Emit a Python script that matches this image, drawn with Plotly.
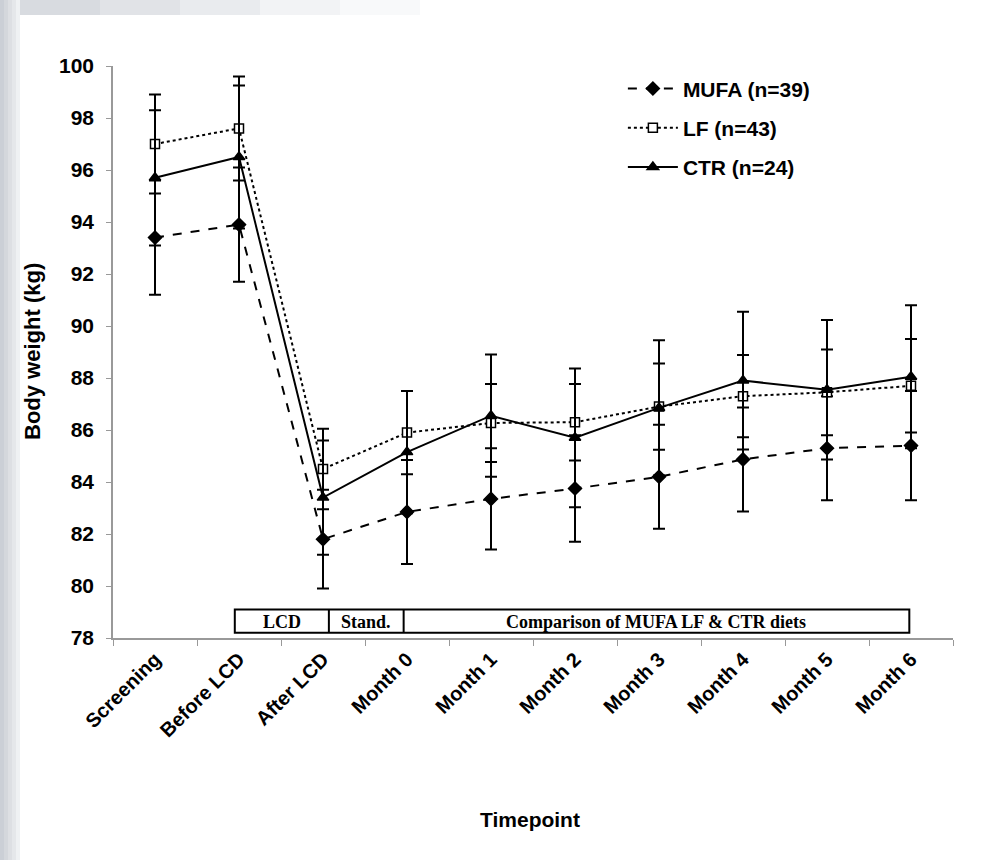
import plotly.graph_objects as go

timepoints = ["Screening", "Before LCD", "After LCD", "Month 0", "Month 1",
              "Month 2", "Month 3", "Month 4", "Month 5", "Month 6"]

mufa = [93.4, 93.9, 81.8, 82.85, 83.35, 83.75, 84.2, 84.87, 85.3, 85.4]
mufa_err = [2.2, 2.2, 1.9, 2.0, 1.95, 2.05, 2.0, 2.0, 2.0, 2.1]

lf = [97.0, 97.6, 84.5, 85.9, 86.27, 86.3, 86.9, 87.3, 87.45, 87.7]
lf_err = [1.9, 2.0, 1.55, 1.6, 1.5, 1.47, 1.66, 1.58, 1.65, 1.8]

ctr = [95.7, 96.5, 83.4, 85.15, 86.55, 85.7, 86.85, 87.9, 87.55, 88.05]
ctr_err = [2.6, 2.75, 2.2, 2.35, 2.35, 2.67, 2.6, 2.65, 2.68, 2.75]

phase_labels = ["LCD", "Stand.", "Comparison of MUFA LF & CTR diets"]
phase_bounds = [0.95, 2.07, 2.96, 8.98]

yticks = list(range(78, 101, 2))

fig = go.Figure()

def add_series(name, y, err, dash, symbol, mfill, msize, group):
    fig.add_trace(go.Scatter(
        x=timepoints, y=y, name=name, mode="lines+markers",
        legendgroup=group,
        line=dict(color="black", width=2, dash=dash),
        marker=dict(symbol=symbol, size=msize, color=mfill,
                    line=dict(color="black", width=1.5)),
        error_y=dict(type="data", array=err, visible=True,
                     color="black", thickness=2, width=6),
    ))

add_series("MUFA (n=39)", mufa, mufa_err, "dash", "diamond", "black", 10, "a")
add_series("LF (n=43)", lf, lf_err, "dot", "square", "white", 9, "b")
add_series("CTR (n=24)", ctr, ctr_err, "solid", "triangle-up", "black", 10, "c")

shapes = []
# slide-like gray border (left and top-left)
for i, op in enumerate([0.6, 0.5, 0.4, 0.3, 0.18]):
    x0 = -113/840 + i*4/840
    shapes.append(dict(type="rect", xref="paper", yref="paper",
                       x0=x0, x1=x0 + 4/840, y0=-222/572, y1=638/572,
                       fillcolor="#a9afba", opacity=op, line=dict(width=0),
                       layer="below"))
for i, op in enumerate([0.45, 0.35, 0.25, 0.15, 0.08]):
    x0 = -113/840 + 20/840 + i*80/840
    shapes.append(dict(type="rect", xref="paper", yref="paper",
                       x0=x0, x1=x0 + 80/840, y0=(638-15)/572, y1=638/572,
                       fillcolor="#a9afba", opacity=op, line=dict(width=0),
                       layer="below"))

# phase box
shapes.append(dict(type="rect", xref="x", yref="y",
                   x0=phase_bounds[0], x1=phase_bounds[-1], y0=78.2, y1=79.1,
                   line=dict(color="black", width=2), fillcolor="white"))
for b in phase_bounds[1:-1]:
    shapes.append(dict(type="line", xref="x", yref="y", x0=b, x1=b,
                       y0=78.2, y1=79.1, line=dict(color="black", width=2)))

annotations = []
for i, lab in enumerate(phase_labels):
    annotations.append(dict(
        x=(phase_bounds[i] + phase_bounds[i+1]) / 2, y=78.63, xref="x", yref="y",
        text=lab, showarrow=False,
        font=dict(family="Liberation Serif", size=18, color="black", weight="bold")))

annotations.append(dict(x=-81/840, y=0.5, xref="paper", yref="paper",
                        xanchor="center", yanchor="middle",
                        text="Body weight (kg)", textangle=-90, showarrow=False,
                        font=dict(family="Liberation Sans", size=22, color="black",
                                  weight="bold")))
annotations.append(dict(x=0.496, y=-0.318, xref="paper", yref="paper",
                        xanchor="center", yanchor="middle",
                        text="Timepoint", showarrow=False,
                        font=dict(family="Liberation Sans", size=21, color="black",
                                  weight="bold")))

fig.update_layout(
    width=986, height=860,
    margin=dict(l=113, r=33, t=66, b=222),
    paper_bgcolor="white", plot_bgcolor="white",
    font=dict(family="Liberation Sans", color="black"),
    showlegend=True,
    legend=dict(x=0.607, y=0.996, xanchor="left", yanchor="top",
                bgcolor="rgba(0,0,0,0)", itemwidth=50, tracegroupgap=9,
                font=dict(family="Liberation Sans", size=21, color="black",
                          weight="bold")),
    shapes=shapes,
    annotations=annotations,
)

fig.update_xaxes(type="category", categoryorder="array", categoryarray=timepoints,
                 range=[-0.5, 9.5], tickson="boundaries", ticks="outside",
                 ticklen=6, tickcolor="#999999", showline=True,
                 linecolor="#999999", linewidth=1.5, showgrid=False,
                 tickangle=-45, zeroline=False,
                 tickfont=dict(family="Liberation Sans", size=20, color="black",
                               weight="bold"))
fig.update_yaxes(range=[78, 100], tickvals=yticks, ticks="outside", ticklen=5,
                 tickcolor="#999999", showline=True, linecolor="#999999",
                 linewidth=1.5, showgrid=False, zeroline=False,
                 ticklabelstandoff=8,
                 tickfont=dict(family="Liberation Sans", size=21, color="black",
                               weight="bold"))

fig.write_html("out.html", config={"displayModeBar": False},
               post_script="document.body.style.margin='0';")
